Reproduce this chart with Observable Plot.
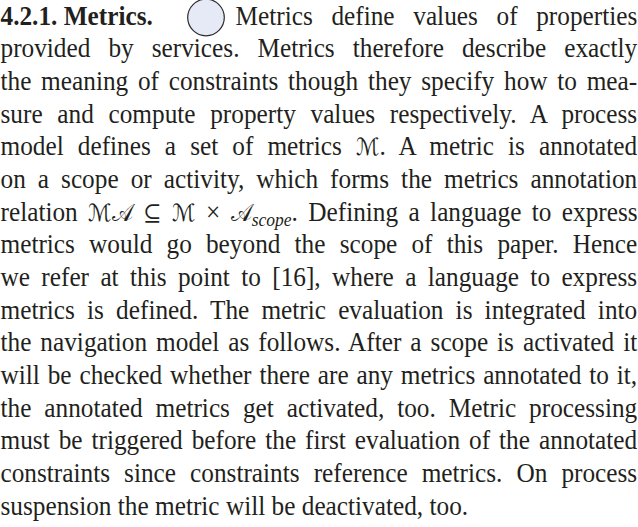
<!DOCTYPE html>
<html><head><meta charset="utf-8">
<script src="https://cdn.jsdelivr.net/npm/d3@7"></script>
<script src="https://cdn.jsdelivr.net/npm/@observablehq/plot@0.6"></script>
<style>body{margin:0;background:#fff}</style>
</head><body><div id="chart"></div>
<script>
const heading = ["4.2.1. Metrics."];
const bodyLines = [
  "Metrics define values of properties",
  "provided by services. Metrics therefore describe exactly",
  "the meaning of constraints though they specify how to mea-",
  "sure and compute property values respectively. A process",
  "model defines a set of metrics ℳ. A metric is annotated",
  "on a scope or activity, which forms the metrics annotation",
  "relation ℳ𝒜 ⊆ ℳ × 𝒜scope. Defining a language to express",
  "metrics would go beyond the scope of this paper. Hence",
  "we refer at this point to [16], where a language to express",
  "metrics is defined. The metric evaluation is integrated into",
  "the navigation model as follows. After a scope is activated it",
  "will be checked whether there are any metrics annotated to it,",
  "the annotated metrics get activated, too. Metric processing",
  "must be triggered before the first evaluation of the annotated",
  "constraints since constraints reference metrics. On process",
  "suspension the metric will be deactivated, too."
];
const icon = ["annotation"];

const W = 638, H = 527, FS = 25.3, STRETCH = 1.075;
const firstBase = 24, step = 32.67;
const leftX = 0, rightX = 637;
const iconX = 205.5, indentX = 235;
const ink = "#231f20";
const mathFont = "'DejaVu Serif', 'DejaVu Sans', serif";

const rows = bodyLines.map((t, i) => ({i, t, x: i === 0 ? indentX : leftX}));
const n = bodyLines.length;

const plot = Plot.plot({
  width: W, height: H, margin: 0,
  x: {domain: [0, W], range: [0, W], axis: null},
  y: {domain: [0, n - 1], range: [firstBase, firstBase + (n - 1) * step], axis: null},
  style: {background: "#fff", fontFamily: "'Liberation Serif', 'Times New Roman', serif"},
  marks: [
    Plot.text(rows, {x: "x", y: "i", text: "t", textAnchor: "start", lineAnchor: "bottom", fontSize: FS, fill: ink}),
    Plot.text(heading, {x: () => leftX, y: () => 0, text: d => d, textAnchor: "start", lineAnchor: "bottom", fontSize: FS, fontWeight: "bold", fill: ink}),
    Plot.dot(icon, {x: () => iconX, y: () => 0, r: 18.3, dy: -7, fill: "#e6eaf7", stroke: "#2a2a2a", strokeWidth: 1.2})
  ]
});
document.getElementById("chart").appendChild(plot);

const SVGNS = "http://www.w3.org/2000/svg";
function addSpan(el, p) {
  const ts = document.createElementNS(SVGNS, "tspan");
  ts.textContent = p.t;
  if (p.f) ts.setAttribute("font-family", p.f);
  if (p.fs) ts.setAttribute("font-size", p.fs);
  if (p.italic) ts.setAttribute("font-style", "italic");
  if (p.dy) ts.setAttribute("dy", p.dy);
  el.appendChild(ts);
}
function richify(el, line) {
  // split calligraphic symbols into their own spans
  el.textContent = "";
  const m = line.match(/^(.*?)(𝒜)(scope)(.*)$/u);
  const segs = [];
  if (m) {
    const pre = m[1];
    for (const piece of pre.split(/(ℳ𝒜|ℳ|⊆)/u)) if (piece) segs.push(/[ℳ𝒜⊆]/u.test(piece) ? {t: piece, f: mathFont, fs: 22} : {t: piece});
    segs.push({t: m[2], f: mathFont, fs: 22});
    segs.push({t: m[3], italic: true, fs: 17.5, dy: 5});
    segs.push({t: m[4], dy: -5});
  } else {
    for (const piece of line.split(/(ℳ)/u)) if (piece) segs.push(piece === "ℳ" ? {t: piece, f: mathFont, fs: 22} : {t: piece});
  }
  segs.forEach(p => addSpan(el, p));
}

const groups = plot.querySelectorAll('g[aria-label="text"]');
const bodyTexts = groups[0].querySelectorAll("text");
bodyTexts.forEach((el, k) => {
  const line = bodyLines[k];
  if (/[ℳ𝒜]/u.test(line)) richify(el, line);
  if (k < n - 1) {
    const x0 = rows[k].x;
    const len = el.getComputedTextLength();
    const spaces = (line.match(/ /g) || []).length;
    if (spaces > 0) el.style.wordSpacing = ((rightX - x0 - len) / spaces) + "px";
  }
});

// vertical stretch of glyphs, as in the reference scan
plot.querySelectorAll('g[aria-label="text"] text').forEach(el => {
  const t = el.getAttribute("transform");
  const x = +el.getAttribute("x") || 0, y = +el.getAttribute("y") || 0;
  el.setAttribute("x", 0); el.setAttribute("y", 0);
  el.setAttribute("transform", `${t || ""} translate(${x},${y}) scale(1,${STRETCH})`);
});
</script>
</body></html>
